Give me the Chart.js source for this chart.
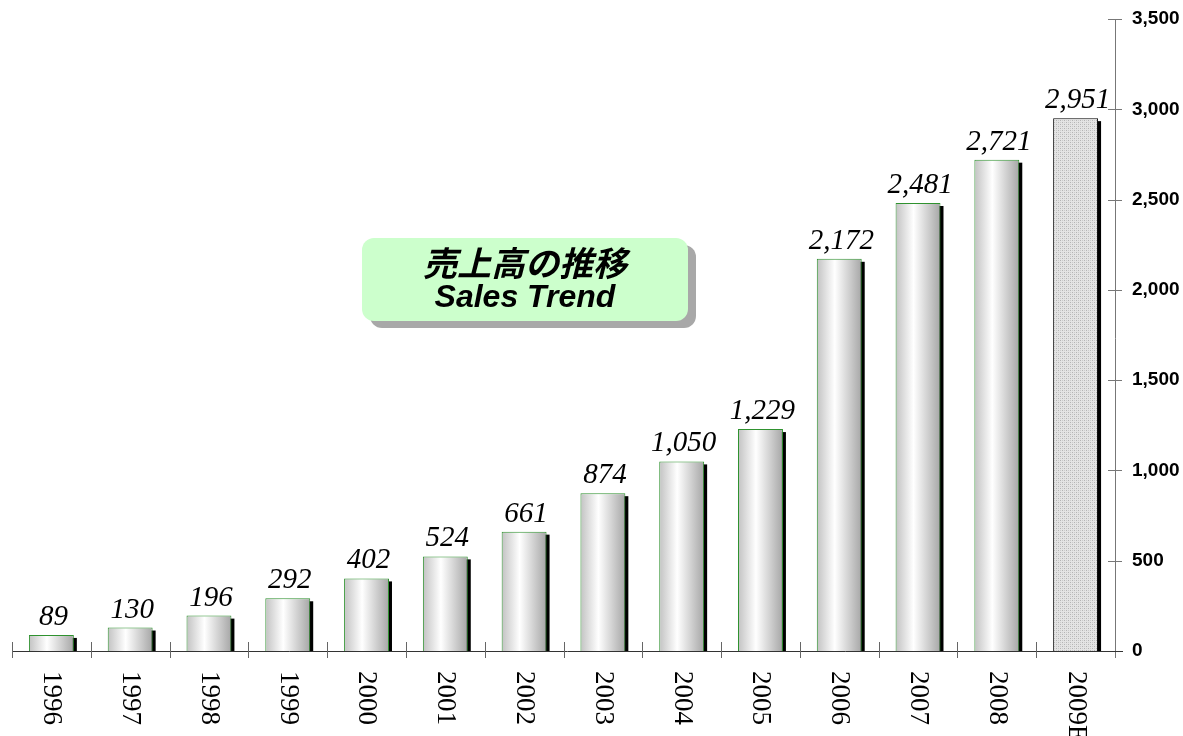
<!DOCTYPE html>
<html>
<head>
<meta charset="utf-8">
<script src="https://cdn.jsdelivr.net/npm/chart.js@4"></script>
<style>
html,body{margin:0;padding:0;background:#fff;}
#wrap{width:1183px;height:736px;}
</style>
</head>
<body>
<div id="wrap"><canvas id="grafico" width="1183" height="736"></canvas></div>
<script>

// ---------------------
// DADOS
// ---------------------

const anos=["1996","1997","1998","1999","2000","2001","2002","2003","2004","2005","2006","2007","2008","2009E"];
const vendas=[89,130,196,292,402,524,661,874,1050,1229,2172,2481,2721,2951];
const yTicks=[0,500,1000,1500,2000,2500,3000,3500];
const tituloJP="売上高の推移";
const tituloEN="Sales Trend";

// ---------------------
// ESTILOS
// ---------------------

function padraoPontilhado(){
    const c=document.createElement("canvas");
    c.width=4; c.height=4;
    const g=c.getContext("2d");
    g.fillStyle="#e4e4e4";
    g.fillRect(0,0,4,4);
    g.fillStyle="#b4b4b4";
    g.fillRect(0,0,1,1);
    g.fillRect(2,2,1,1);
    g.fillStyle="#cccccc";
    g.fillRect(2,0,1,1);
    g.fillRect(0,2,1,1);
    return g.createPattern(c,"repeat");
}

const pontilhado=padraoPontilhado();

function corBarra(ctx){
    const chart=ctx.chart;
    if(ctx.dataIndex===vendas.length-1) return pontilhado;
    if(!chart.chartArea) return "#dddddd";
    const x=chart.scales.x;
    const cx=x.getPixelForValue(ctx.dataIndex);
    const w=x.width/anos.length*0.57;
    const grad=chart.ctx.createLinearGradient(cx-w/2,0,cx+w/2,0);
    grad.addColorStop(0,"#c2c2c2");
    grad.addColorStop(0.4,"#ffffff");
    grad.addColorStop(1,"#a6a6a6");
    return grad;
}

// ---------------------
// PLUGIN: sombras, eixos, rótulos, título
// ---------------------

const extras={
    id:"extras",

    beforeDatasetsDraw(chart){
        const ctx=chart.ctx;
        const meta=chart.getDatasetMeta(0);
        ctx.save();
        ctx.fillStyle="#000";
        meta.data.forEach(el=>{
            const left=el.x-el.width/2;
            ctx.fillRect(left+3,el.y+3,el.width,el.base-el.y-3);
        });
        ctx.restore();
    },

    afterDraw(chart){
        const ctx=chart.ctx;
        const area=chart.chartArea;
        const xs=chart.scales.x;
        const ys=chart.scales.y;
        const meta=chart.getDatasetMeta(0);
        const base=ys.getPixelForValue(0);
        const passo=xs.width/anos.length;

        ctx.save();

        // eixo Y (direita)
        ctx.strokeStyle="#777";
        ctx.lineWidth=1;
        ctx.beginPath();
        ctx.moveTo(area.right+0.5,ys.getPixelForValue(3500));
        ctx.lineTo(area.right+0.5,base+7);
        ctx.stroke();
        yTicks.forEach(v=>{
            const y=Math.round(ys.getPixelForValue(v))+0.5;
            ctx.beginPath();
            ctx.moveTo(area.right-7,y);
            ctx.lineTo(area.right+7,y);
            ctx.stroke();
        });

        // eixo X
        ctx.strokeStyle="#333";
        ctx.beginPath();
        ctx.moveTo(area.left,Math.round(base)+0.5);
        ctx.lineTo(area.right+8,Math.round(base)+0.5);
        ctx.stroke();
        ctx.strokeStyle="#666";
        anos.forEach((a,i)=>{
            const x=Math.round(xs.getPixelForValue(i)-passo/2)+0.5;
            ctx.beginPath();
            ctx.moveTo(x,base-9);
            ctx.lineTo(x,base+7);
            ctx.stroke();
        });

        // rótulos do eixo X (girados)
        ctx.fillStyle="#000";
        ctx.font='27px "Liberation Serif"';
        ctx.textAlign="left";
        ctx.textBaseline="middle";
        anos.forEach((a,i)=>{
            const x=xs.getPixelForValue(i);
            ctx.save();
            ctx.translate(x,base+20);
            ctx.rotate(Math.PI/2);
            ctx.fillText(a,0,0);
            ctx.restore();
        });

        // valores acima das barras
        ctx.font='italic 29px "Liberation Serif"';
        ctx.textAlign="center";
        ctx.textBaseline="alphabetic";
        meta.data.forEach((el,i)=>{
            ctx.fillText(vendas[i].toLocaleString("en-US"),el.x+2,el.y-10);
        });

        // caixa do título
        const bx=362, by=238, bw=326, bh=83, r=12;
        ctx.fillStyle="#a8a8a8";
        ctx.beginPath();
        ctx.roundRect(bx+8,by+7,bw,bh,r);
        ctx.fill();
        ctx.fillStyle="#ccffcc";
        ctx.beginPath();
        ctx.roundRect(bx,by,bw,bh,r);
        ctx.fill();
        ctx.fillStyle="#000";
        ctx.textAlign="center";
        ctx.font='italic bold 34px "Noto Sans CJK JP"';
        ctx.textBaseline="middle";
        ctx.fillText(tituloJP,bx+bw/2,by+25);
        ctx.font='italic bold 32px "Liberation Sans"';
        ctx.textBaseline="alphabetic";
        ctx.fillText(tituloEN,bx+bw/2,by+69);

        ctx.restore();
    }
};

// ---------------------
// GRÁFICO
// ---------------------

new Chart(document.getElementById("grafico"),{

    type:"bar",

    data:{
        labels:anos,
        datasets:[{
            data:vendas,
            backgroundColor:corBarra,
            borderColor:vendas.map((v,i)=>i===vendas.length-1?"#000":"#2f922f"),
            borderWidth:1,
            categoryPercentage:1,
            barPercentage:0.57
        }]
    },

    options:{
        responsive:false,
        animation:false,
        layout:{padding:{top:19,left:12,right:0,bottom:0}},
        plugins:{
            legend:{display:false},
            tooltip:{enabled:false}
        },
        scales:{
            x:{
                grid:{display:false,drawTicks:false},
                border:{display:false},
                ticks:{display:false},
                afterFit(s){ s.height=85; s.paddingLeft=0; s.paddingRight=0; }
            },
            y:{
                position:"right",
                min:0,
                max:3500,
                grid:{display:false,drawTicks:false},
                border:{display:false},
                ticks:{
                    stepSize:500,
                    padding:17,
                    color:"#000",
                    font:{family:"Liberation Sans",weight:"bold",size:19},
                    callback:v=>v.toLocaleString("en-US")
                },
                afterFit(s){ s.width=68; s.paddingTop=0; s.paddingBottom=0; }
            }
        }
    },

    plugins:[extras]

});

</script>
</body>
</html>
